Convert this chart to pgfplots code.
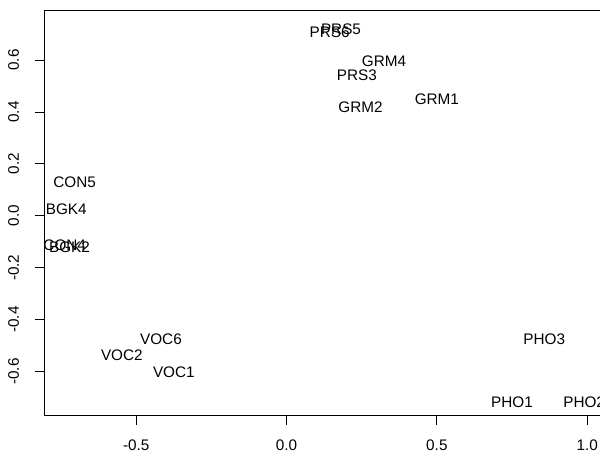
\documentclass[border=0pt]{standalone}
\usepackage{fontspec}
\setmainfont{Liberation Sans}
\usepackage{pgfplots}
\pgfplotsset{compat=1.18}
\newcommand{\lbl}{\fontsize{15.3bp}{18bp}\selectfont}

\begin{document}
\begin{tikzpicture}
\path[use as bounding box,clip] (-44.3bp,-38.3bp) rectangle (555.7bp,415.7bp);
\begin{axis}[at={(0,0)},anchor=south west,scale only axis,
  width=560.9bp,height=405bp,
  xmin=-0.806,xmax=1.06,ymin=-0.770,ymax=0.790,
  xtick={-0.5,0,0.5,1},ytick={-0.6,-0.4,-0.2,0,0.2,0.4,0.6},
  tick pos=left,tick align=outside,major tick length=9bp,
  axis line style={line width=0.8bp},tick style={line width=0.8bp,black},
  /pgf/number format/assume math mode=true,
  /pgf/number format/.cd,fixed,fixed zerofill,precision=1,/pgfplots/.cd,
  tick label style={font=\lbl,inner sep=0pt},
  xticklabel style={anchor=north},xticklabel shift=15bp,
  yticklabel style={rotate=90,anchor=south},yticklabel shift=16bp,
  clip=false]
\addplot[only marks,mark=none,nodes near coords,point meta=explicit symbolic,
  nodes near coords style={anchor=center,inner sep=0pt,font=\lbl}]
  table[row sep=\\,meta=lab]{x y lab\\
0.181 0.718 PRS5\\
0.143 0.708 PRS6\\
0.324 0.597 GRM4\\
0.234 0.542 PRS3\\
0.246 0.418 GRM2\\
0.500 0.448 GRM1\\
-0.705 0.131 CON5\\
-0.733 0.026 BGK4\\
-0.738 -0.113 CON4\\
-0.722 -0.122 BGK2\\
-0.418 -0.476 VOC6\\
-0.548 -0.539 VOC2\\
-0.375 -0.603 VOC1\\
0.857 -0.476 PHO3\\
0.750 -0.720 PHO1\\
0.990 -0.720 PHO2\\
};
\end{axis}
\end{tikzpicture}
\end{document}
